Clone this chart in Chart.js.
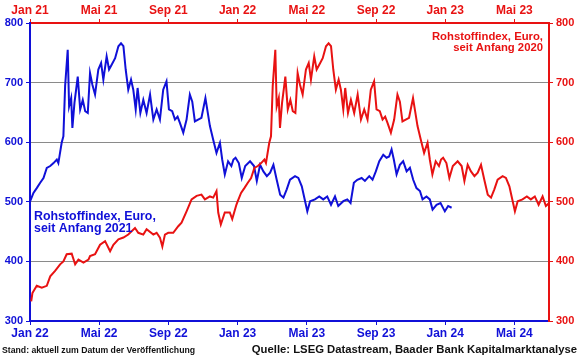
<!DOCTYPE html>
<html>
<head>
<meta charset="utf-8">
<script src="https://cdn.jsdelivr.net/npm/chart.js@4"></script>
<style>
html,body{margin:0;padding:0;background:#fff;}
canvas{display:block;}
</style>
</head>
<body>
<canvas id="c" width="580" height="358"></canvas>
<script>
// x = months since Jan 2021 (calendar), y = index value (Euro)
const months = [
0.07,0.14,0.39,0.68,0.97,1.17,1.45,1.74,1.93,2.12,2.41,2.61,2.80,3.09,3.38,3.47,3.76,4.05,4.34,4.63,4.82,5.11,5.40,5.68,6.07,6.26,6.55,6.74,7.13,7.32,7.51,7.65,7.80,7.99,8.28,8.57,8.76,9.05,9.34,9.63,9.91,10.11,10.40,10.59,10.78,10.88,11.03,11.26,11.55,11.69,11.93,
12.01,12.20,12.39,12.59,12.78,12.97,13.17,13.36,13.55,13.64,13.83,13.93,14.03,14.18,14.26,14.38,14.45,14.57,14.76,14.90,15.05,15.19,15.34,15.47,15.61,15.76,15.95,16.11,16.24,16.43,16.57,16.72,16.92,17.11,17.26,17.40,17.53,17.68,17.84,17.97,18.11,18.22,18.38,18.55,18.74,18.94,19.13,19.32,19.51,19.70,19.89,20.03,20.22,20.38,20.53,20.67,20.86,21.05,21.24,21.38,21.53,21.72,21.91,22.14,22.40,22.59,22.78,22.98,23.11,23.26,23.45,23.64,23.76,23.88,24.07,24.24,24.44,24.72,24.95,25.11,25.30,25.49,25.69,25.88,26.07,26.26,26.46,26.65,26.84,27.03,27.32,27.51,27.71,27.84,28.03,28.19,28.47,28.72,28.95,29.18,29.40,29.63,29.82,30.11,30.34,30.53,30.72,30.92,31.17,31.36,31.61,31.80,31.99,32.19,32.42,32.61,32.76,32.90,33.03,33.19,33.38,33.57,33.77,33.96,34.15,34.34,34.54,34.69,34.92,35.11,35.27,35.50,35.73,35.98,36.17,36.37
];
const indexValues = [
333,347,359,356,359,375,384,395,400,412,413,395,403,398,403,409,412,428,434,417,428,437,440,445,456,448,445,454,445,448,440,425,445,448,448,459,465,484,504,510,512,504,509,507,518,482,462,482,482,471,495,
501,515,523,532,540,557,560,565,571,565,599,610,694,755,660,674,624,666,710,655,671,652,649,716,696,680,722,733,705,744,722,730,741,761,766,761,722,688,705,688,655,691,649,671,649,680,638,655,638,688,702,655,652,638,643,632,616,638,680,668,635,638,641,674,627,604,582,599,571,546,568,560,571,574,565,540,560,568,560,535,562,551,543,549,562,537,512,507,521,537,543,540,526,509,484,501,504,509,504,509,495,509,493,501,504,498,532,537,540,535,543,537,551,568,579,574,576,588,571,546,562,568,551,557,537,523,518,504,509,504,487,495,498,484,493,490
];
const topTickLabels = ['Jan 21','Mai 21','Sep 21','Jan 22','Mai 22','Sep 22','Jan 23','Mai 23'];
const bottomTickLabels = ['Jan 22','Mai 22','Sep 22','Jan 23','Mai 23','Sep 23','Jan 24','Mai 24'];
const yTicks = [300,400,500,600,700,800];

const BLUE = '#1010d8';
const RED = '#e81212';
const pts = months.map((m,i)=>({x:m,y:indexValues[i]}));

const textPlugin = {
  id:'texts',
  afterDraw(chart){
    const ctx = chart.ctx;
    ctx.save();
    ctx.textBaseline = 'alphabetic';
    ctx.fillStyle = BLUE;
    ctx.font = 'bold 12.4px "Liberation Sans", Arial, sans-serif';
    ctx.textAlign = 'left';
    ctx.fillText('Rohstoffindex, Euro,', 34, 220);
    ctx.fillText('seit Anfang 2021', 34, 232);
    ctx.fillStyle = RED;
    ctx.font = 'bold 11.3px "Liberation Sans", Arial, sans-serif';
    ctx.textAlign = 'right';
    ctx.fillText('Rohstoffindex, Euro,', 543, 40);
    ctx.fillText('seit Anfang 2020', 543, 51);
    ctx.fillStyle = '#111';
    ctx.font = 'bold 8.7px "Liberation Sans", Arial, sans-serif';
    ctx.textAlign = 'left';
    ctx.fillText('Stand: aktuell zum Datum der Veröffentlichung', 2, 353);
    ctx.font = 'bold 11.3px "Liberation Sans", Arial, sans-serif';
    ctx.textAlign = 'right';
    ctx.fillText('Quelle: LSEG Datastream, Baader Bank Kapitalmarktanalyse', 577, 353);
    ctx.restore();
  }
};

const tickFont = {family:'"Liberation Sans", Arial, sans-serif', weight:'bold', size:12};
const yFont = {family:'"Liberation Sans", Arial, sans-serif', weight:'bold', size:11};

new Chart(document.getElementById('c'), {
  type:'line',
  data:{
    datasets:[
      {label:'Rohstoffindex, Euro, seit Anfang 2020', data:pts, xAxisID:'xTop', yAxisID:'yRight', borderColor:RED, borderWidth:2, pointRadius:0, tension:0},
      {label:'Rohstoffindex, Euro, seit Anfang 2021', data:pts, xAxisID:'x', yAxisID:'y', borderColor:BLUE, borderWidth:2, pointRadius:0, tension:0}
    ]
  },
  options:{
    responsive:false,
    animation:false,
    devicePixelRatio:1,
    layout:{padding:0},
    plugins:{legend:{display:false}, tooltip:{enabled:false}},
    scales:{
      x:{
        type:'linear', position:'bottom', min:12, max:42,
        border:{color:BLUE, width:2},
        grid:{drawOnChartArea:false, color:BLUE, tickLength:4},
        ticks:{stepSize:4, color:BLUE, font:tickFont, padding:1, maxRotation:0, autoSkip:false,
          callback:(v)=>bottomTickLabels[(v-12)/4]},
        afterFit:(s)=>{s.height=37;}
      },
      xTop:{
        type:'linear', position:'top', min:0, max:30,
        border:{color:RED, width:2},
        grid:{drawOnChartArea:false, color:RED, tickLength:4},
        ticks:{stepSize:4, color:RED, font:tickFont, padding:1, maxRotation:0, autoSkip:false,
          callback:(v)=>topTickLabels[v/4]},
        afterFit:(s)=>{s.height=23;}
      },
      y:{
        type:'linear', position:'left', min:300, max:800,
        border:{color:BLUE, width:2},
        grid:{color:(c)=> (c.tick && (c.tick.value===300||c.tick.value===800)) ? 'rgba(0,0,0,0)' : '#8a8a8a', tickColor:BLUE, tickLength:4, lineWidth:1},
        afterBuildTicks:(s)=>{s.ticks = yTicks.map(v=>({value:v}));},
        ticks:{color:BLUE, font:yFont, padding:3},
        afterFit:(s)=>{s.width=30;}
      },
      yRight:{
        type:'linear', position:'right', min:300, max:800,
        border:{color:RED, width:2},
        grid:{drawOnChartArea:false, tickColor:RED, color:RED, tickLength:4},
        afterBuildTicks:(s)=>{s.ticks = yTicks.map(v=>({value:v}));},
        ticks:{color:RED, font:yFont, padding:3},
        afterFit:(s)=>{s.width=31;}
      }
    }
  },
  plugins:[textPlugin]
});
</script>
</body>
</html>
